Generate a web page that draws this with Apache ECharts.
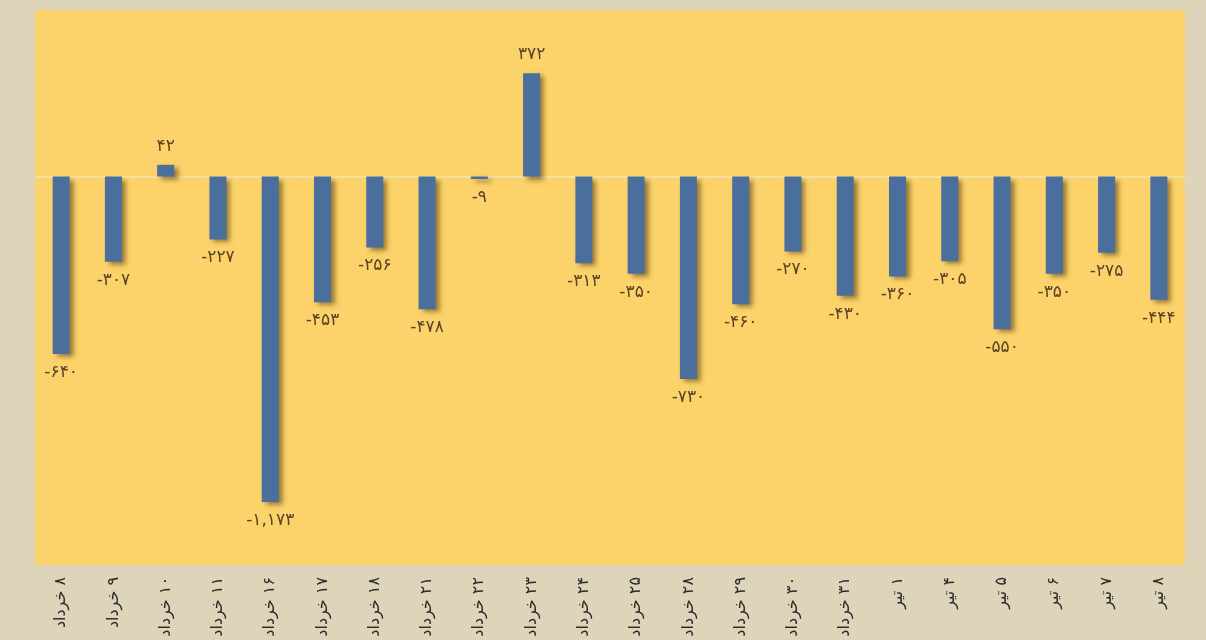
<!DOCTYPE html>
<html>
<head>
<meta charset="utf-8">
<script src="https://cdn.jsdelivr.net/npm/echarts@6/dist/echarts.min.js"></script>
<style>
html,body{margin:0;padding:0;background:#ddd4b9;}
#c{width:1206px;height:640px;}
</style>
</head>
<body>
<div id="c"></div>
<script>
const categories = ["۸ خرداد","۹ خرداد","۱۰ خرداد","۱۱ خرداد","۱۶ خرداد","۱۷ خرداد","۱۸ خرداد","۲۱ خرداد","۲۲ خرداد","۲۳ خرداد","۲۴ خرداد","۲۵ خرداد","۲۸ خرداد","۲۹ خرداد","۳۰ خرداد","۳۱ خرداد","۱ تیر","۴ تیر","۵ تیر","۶ تیر","۷ تیر","۸ تیر"];
const values = [-640,-307,42,-227,-1173,-453,-256,-478,-9,372,-313,-350,-730,-460,-270,-430,-360,-305,-550,-350,-275,-444];
const yMin = -1400;
const yMax = 600;

function fa(n){
  const d='۰۱۲۳۴۵۶۷۸۹';
  const s=Math.abs(n).toString().replace(/\B(?=(\d{3})+(?!\d))/g, ',');
  return (n<0?'-':'')+s.replace(/\d/g, c=>d[+c]);
}

const chart = echarts.init(document.getElementById('c'));
chart.setOption({
  backgroundColor:'#ddd4b9',
  animation:false,
  grid:{left:35,right:21,top:10,bottom:75,show:true,backgroundColor:'#fcd36a',borderWidth:0},
  xAxis:{
    type:'category',
    data:categories,
    axisLine:{show:false},
    axisTick:{show:false},
    axisLabel:{
      rotate:90,
      interval:0,
      margin:12,
      fontSize:16,
      color:'#2b2b2b',
      fontFamily:'"DejaVu Sans", "Noto Sans", sans-serif',
      formatter:v=>'\u200F'+v
    }
  },
  yAxis:{
    type:'value',
    min:yMin,max:yMax,
    show:true,
    axisLabel:{show:false},
    axisLine:{show:false},
    axisTick:{show:false},
    splitLine:{show:false}
  },
  series:[{
    type:'bar',
    data:values,
    barWidth:17,
    itemStyle:{
      color:'#4a6f9d',
      shadowColor:'rgba(60,40,0,0.55)',
      shadowBlur:5,
      shadowOffsetX:4,
      shadowOffsetY:3
    },
    label:{
      show:true,
      position:'outside',
      distance:10,
      fontSize:17,
      color:'#5b4326',
      fontFamily:'"DejaVu Sans", "Noto Sans", sans-serif',
      formatter:p=>fa(p.value)
    },
    markLine:{
      silent:true,
      symbol:'none',
      label:{show:false},
      lineStyle:{color:'#f7e6b0',width:1.5,type:'solid'},
      data:[{yAxis:0}],
      z:1
    }
  }]
});
</script>
</body>
</html>
